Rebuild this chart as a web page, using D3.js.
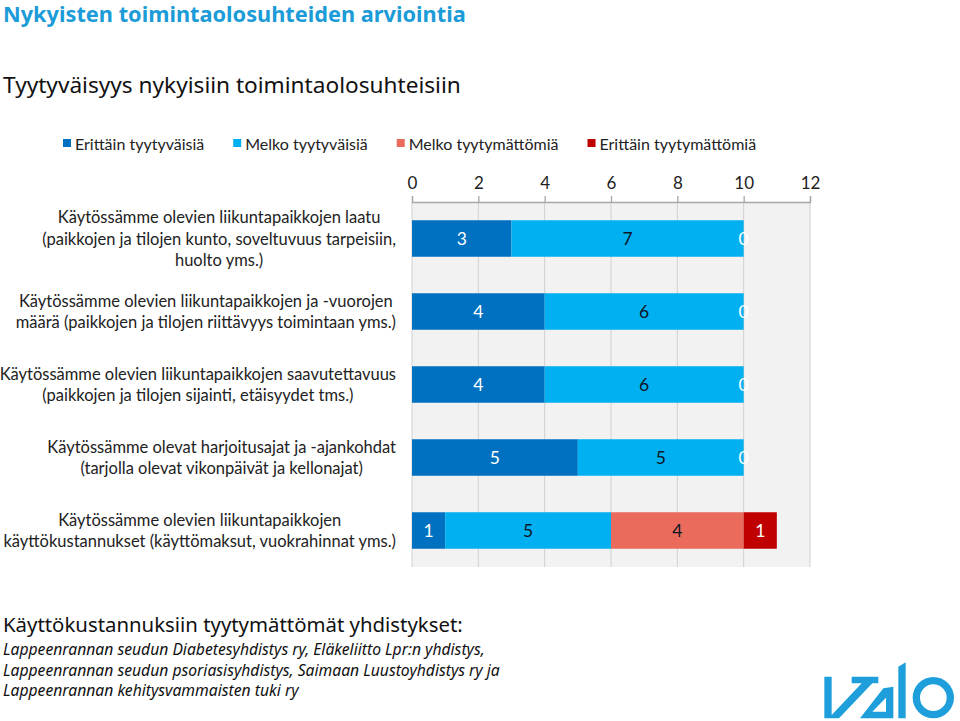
<!DOCTYPE html>
<html>
<head>
<meta charset="utf-8">
<script src="https://cdn.jsdelivr.net/npm/d3@7"></script>
<style>
  html, body { margin: 0; padding: 0; background: #fff; }
  svg { display: block; }
</style>
</head>
<body>
<script>
// ---------- DATA ----------
const categories = [
  ["Käytössämme olevien liikuntapaikkojen laatu", "(paikkojen ja tilojen kunto, soveltuvuus tarpeisiin,", "huolto yms.)"],
  ["Käytössämme olevien liikuntapaikkojen ja -vuorojen", "määrä (paikkojen ja tilojen riittävyys toimintaan yms.)"],
  ["Käytössämme olevien liikuntapaikkojen saavutettavuus", "(paikkojen ja tilojen sijainti, etäisyydet tms.)"],
  ["Käytössämme olevat harjoitusajat ja -ajankohdat", "(tarjolla olevat vikonpäivät ja kellonajat)"],
  ["Käytössämme olevien liikuntapaikkojen", "käyttökustannukset (käyttömaksut, vuokrahinnat yms.)"]
];
const seriesNames = ["Erittäin tyytyväisiä", "Melko tyytyväisiä", "Melko tyytymättömiä", "Erittäin tyytymättömiä"];
const erittainTyytyvaisia = [3, 4, 4, 5, 1];
const melkoTyytyvaisia = [7, 6, 6, 5, 5];
const melkoTyytymattomia = [0, 0, 0, 0, 4];
const erittainTyytymattomia = [0, 0, 0, 0, 1];
const tickValues = [0, 2, 4, 6, 8, 10, 12];

const titleText = "Nykyisten toimintaolosuhteiden arviointia";
const subtitleText = "Tyytyväisyys nykyisiin toimintaolosuhteisiin";
const noteHeading = "Käyttökustannuksiin tyytymättömät yhdistykset:";
const noteLines = [
  "Lappeenrannan seudun Diabetesyhdistys ry, Eläkeliitto Lpr:n yhdistys,",
  "Lappeenrannan seudun psoriasisyhdistys, Saimaan Luustoyhdistys ry ja",
  "Lappeenrannan kehitysvammaisten tuki ry"
];

// ---------- STYLE ----------
const colors = ["#0070c0", "#00b0f0", "#ea6a5b", "#c00000"];
const labelColors = ["#ffffff", "#0d1526", "#0d1526", "#ffffff"];
const showZeroLabel = [false, false, false, true];
const calibri = "Lato, Carlito, Calibri, sans-serif";
const gothic = "'Noto Sans', 'DejaVu Sans', sans-serif";

const W = 960, H = 721;
const svg = d3.select("body").append("svg").attr("width", W).attr("height", H);

function fitText(sel, target) {
  const w = sel.node().getComputedTextLength();
  const fs = parseFloat(sel.attr("font-size"));
  const nf = fs * target / w;
  sel.attr("font-size", nf.toFixed(2));
  return nf;
}

// ---------- TITLES ----------
fitText(svg.append("text").attr("x", 3).attr("y", 22)
  .attr("font-family", gothic).attr("font-weight", "bold").attr("font-size", 22)
  .attr("fill", "#1b9bd7").text(titleText), 463);

fitText(svg.append("text").attr("x", 3).attr("y", 93)
  .attr("font-family", gothic).attr("font-size", 21)
  .attr("fill", "#111").text(subtitleText), 458);

// ---------- LEGEND ----------
let lx = 63;
seriesNames.forEach((name, i) => {
  svg.append("rect").attr("x", lx).attr("y", 139).attr("width", 8).attr("height", 8).attr("fill", colors[i]);
  const t = svg.append("text").attr("x", lx + 12).attr("y", 150)
    .attr("font-family", calibri).attr("font-size", 16).attr("fill", "#222").text(name);
  lx = lx + 12 + t.node().getComputedTextLength() + 29;
});

// ---------- CHART ----------
const plot = { left: 412, right: 810, top: 202, bottom: 567 };
const x = d3.scaleLinear().domain([0, 12]).range([plot.left, plot.right]);
const y = d3.scaleBand().domain(d3.range(categories.length))
  .range([plot.top, plot.bottom]).paddingInner(0.5).paddingOuter(0.25);

svg.append("rect").attr("x", plot.left).attr("y", plot.top)
  .attr("width", plot.right - plot.left).attr("height", plot.bottom - plot.top)
  .attr("fill", "#f2f2f2");

// gridlines
svg.append("g").selectAll("line").data(tickValues).join("line")
  .attr("x1", d => x(d)).attr("x2", d => x(d))
  .attr("y1", plot.top).attr("y2", plot.bottom)
  .attr("stroke", "#d0d0d0").attr("stroke-width", 1);

// top axis
const axis = svg.append("g").attr("transform", `translate(0,${plot.top})`)
  .call(d3.axisTop(x).tickValues(tickValues).tickSize(6).tickPadding(7));
axis.select(".domain").attr("stroke", "#a6a6a6").attr("stroke-width", 1.3);
axis.selectAll(".tick line").attr("stroke", "#a6a6a6").attr("stroke-width", 1.3);
axis.selectAll(".tick text").attr("font-family", calibri).attr("font-size", 17).attr("fill", "#222");

// stacked bars
const table = categories.map((c, i) => ({
  idx: i,
  v0: erittainTyytyvaisia[i], v1: melkoTyytyvaisia[i],
  v2: melkoTyytymattomia[i], v3: erittainTyytymattomia[i]
}));
const stack = d3.stack().keys(["v0", "v1", "v2", "v3"])(table);

const layers = svg.append("g").selectAll("g").data(stack).join("g")
  .attr("fill", (d, i) => colors[i]);
layers.selectAll("rect").data(d => d).join("rect")
  .attr("x", d => x(d[0])).attr("width", d => x(d[1]) - x(d[0]))
  .attr("y", d => y(d.data.idx)).attr("height", y.bandwidth());

// value labels
stack.forEach((layer, si) => {
  svg.append("g").selectAll("text")
    .data(layer.filter(d => (d[1] - d[0]) > 0 || showZeroLabel[si]))
    .join("text")
    .attr("x", d => x((d[0] + d[1]) / 2))
    .attr("y", d => y(d.data.idx) + y.bandwidth() / 2 + 6)
    .attr("text-anchor", "middle")
    .attr("font-family", calibri).attr("font-size", 17.5)
    .attr("fill", labelColors[si])
    .text(d => d[1] - d[0]);
});

// category labels (block right-aligned, lines centered)
const lineH = 21.5;
categories.forEach((lines, i) => {
  const cy = y(i) + y.bandwidth() / 2;
  const g = svg.append("g");
  const texts = lines.map((ln, k) => g.append("text")
    .attr("y", cy + (k - (lines.length - 1) / 2) * lineH + 6)
    .attr("text-anchor", "middle")
    .attr("font-family", calibri).attr("font-size", 16.5).attr("fill", "#222")
    .text(ln));
  const maxW = d3.max(texts, t => t.node().getComputedTextLength());
  texts.forEach(t => t.attr("x", 396 - maxW / 2));
});

// ---------- NOTE ----------
fitText(svg.append("text").attr("x", 3).attr("y", 632)
  .attr("font-family", gothic).attr("font-size", 20).attr("fill", "#111")
  .text(noteHeading), 460);
const noteTexts = noteLines.map((ln, k) => svg.append("text").attr("x", 3).attr("y", 655 + k * 20.5)
    .attr("font-family", gothic).attr("font-style", "italic").attr("font-size", 17)
    .attr("fill", "#111").text(ln));
const noteSize = fitText(noteTexts[1], 497);
noteTexts.forEach(t => t.attr("font-size", noteSize.toFixed(2)));

// ---------- LOGO ----------
const logoColor = "#1e9fdb";
const lg = svg.append("g").attr("transform", "translate(815,655) scale(0.3333)").attr("fill", logoColor);
lg.append("path").attr("d", "M28,65 L50,65 L50,180 L140,85 L110,85 L110,65 L190,65 L190,85 L172,85 L72,190 L28,190 Z");
lg.append("path").attr("fill-rule", "evenodd")
  .attr("d", "M205,100 L235,95 L235,190 L135,190 Z M172,170 L213,170 L213,128 Z");
lg.append("path").attr("d", "M250,35 L272,22 L272,190 L250,190 Z");
lg.append("path")
  .attr("d", d3.arc()({innerRadius: 40, outerRadius: 62, startAngle: 0, endAngle: 2 * Math.PI}))
  .attr("transform", "translate(355,128)");
</script>
</body>
</html>
